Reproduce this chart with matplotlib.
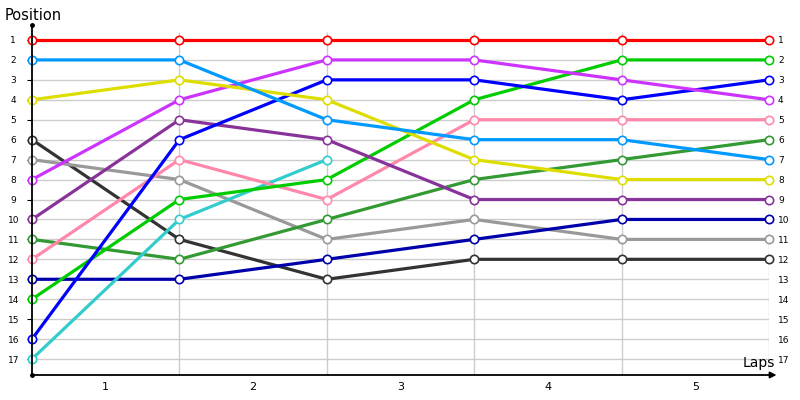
import matplotlib
matplotlib.use('Agg')
import matplotlib.pyplot as plt

# laps 0..5 (lap labels sit between the points)
points = [0, 1, 2, 3, 4, 5]
lap_labels = ['1', '2', '3', '4', '5']
positions = list(range(1, 18))

red = [1, 1, 1, 1, 1, 1]
light_blue = [2, 2, 5, 6, 6, 7]
yellow = [4, 3, 4, 7, 8, 8]
violet = [8, 4, 2, 2, 3, 4]
purple = [10, 5, 6, 9, 9, 9]
blue = [16, 6, 3, 3, 4, 3]
pink = [12, 7, 9, 5, 5, 5]
gray = [7, 8, 11, 10, 11, 11]
green = [14, 9, 8, 4, 2, 2]
cyan = [17, 10, 7]
black = [6, 11, 13, 12, 12, 12]
dark_green = [11, 12, 10, 8, 7, 6]
navy = [13, 13, 12, 11, 10, 10]

series = [
    (black, '#333333'),
    (gray, '#999999'),
    (navy, '#0000aa'),
    (dark_green, '#339933'),
    (cyan, '#33cccc'),
    (pink, '#ff88aa'),
    (green, '#00cc00'),
    (purple, '#883399'),
    (blue, '#0000ff'),
    (violet, '#cc33ff'),
    (yellow, '#dddd00'),
    (light_blue, '#0099ff'),
    (red, '#ff0000'),
]

fig = plt.figure(figsize=(8, 4), dpi=100)
ax = fig.add_axes([32 / 800, 1 - 375 / 400, 737 / 800, 350 / 400])

ymin, ymax = 0.25, 17.8
ax.set_xlim(0, 5)
ax.set_ylim(ymax, ymin)

# grid
for p in positions:
    ax.axhline(p, color='#cccccc', lw=1, zorder=0)
ax.vlines(points[1:], 0.6, ymax, color='#cccccc', lw=1, zorder=0)

for vals, col in series:
    ax.plot(points[:len(vals)], vals, color=col, lw=2.3, marker='o', ms=6,
            mfc='white', mec=col, mew=1.2, clip_on=False, zorder=3)

# axes lines
for s in ['top', 'right', 'bottom', 'left']:
    ax.spines[s].set_visible(False)
ax.plot([0, 0], [ymin, ymax], color='black', lw=1.3, clip_on=False, zorder=4)
ax.plot([0, 5.03], [ymax, ymax], color='black', lw=1.3, clip_on=False, zorder=4)
ax.plot([0, 0], [ymin, ymax], 'o', color='black', ms=2.5, clip_on=False, zorder=4)
ax.annotate('', xy=(5.07, ymax), xytext=(5.0, ymax),
            arrowprops=dict(arrowstyle='-|>', color='black', lw=1.3,
                            mutation_scale=9),
            annotation_clip=False)

# left labels (centred) and right labels (left aligned)
ax.set_yticks(positions)
ax.set_yticklabels([str(p) for p in positions])
ax.tick_params(axis='y', left=False, labelsize=6.5, pad=10)
for lab in ax.get_yticklabels():
    lab.set_horizontalalignment('center')

ax2 = ax.twinx()
ax2.set_ylim(ymax, ymin)
ax2.set_yticks(positions)
ax2.set_yticklabels([str(p) for p in positions])
ax2.tick_params(axis='y', right=False, labelsize=6.5, pad=3)
for s in ['top', 'right', 'bottom', 'left']:
    ax2.spines[s].set_visible(False)

ax.set_xticks([0.5, 1.5, 2.5, 3.5, 4.5])
ax.set_xticklabels(lap_labels)
ax.tick_params(axis='x', length=0, labelsize=8, pad=5)

ax.text(4.93, 17.55, 'Laps', fontsize=10, ha='center', va='bottom')
fig.text(5 / 800, 1 - 16 / 400, 'Position', fontsize=10.5, va='center', ha='left')

fig.savefig('out.png', dpi=100)
